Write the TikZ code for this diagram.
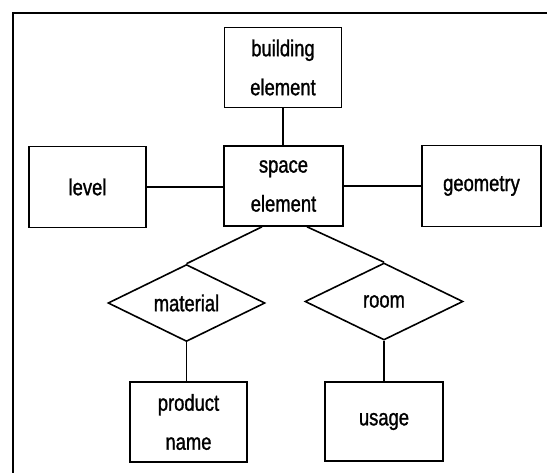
\documentclass[tikz,border=0pt]{standalone}
\usepackage{fontspec}
\setmainfont{Liberation Sans}[FakeStretch=0.8,FakeBold=1.2]
\usetikzlibrary{shapes.geometric,calc}
\begin{document}
\begin{tikzpicture}[x=1pt,y=-1pt,
  entity/.style={draw,line width=1.6pt,rectangle,minimum width=117pt,minimum height=80pt,
    inner sep=0pt,align=center,font=\fontsize{23}{39}\selectfont},
  relation/.style={draw,line width=1.6pt,diamond,aspect=2,minimum width=157pt,minimum height=77pt,
    inner sep=0pt,font=\fontsize{23}{39}\selectfont},
  link/.style={line width=1.6pt}]
\useasboundingbox (0,0) rectangle (547,472);
% outer frame
\draw[line width=2.6pt] (13,474) -- (13,13) -- (549,13);
% entities
\node[entity] (building) at (283,67.5) {building\\element};
\node[entity,minimum width=119pt] (space) at (283.5,186) {space\\element};
\node[entity,minimum height=81pt] (level) at (87.5,187) {level};
\node[entity,minimum width=119pt,minimum height=81pt] (geometry) at (481.5,186) {geometry};
\node[entity] (product) at (188.5,422) {product\\name};
\node[entity,minimum width=118pt,minimum height=79pt] (usage) at (384,421.5) {usage};
% relationships
\node[relation] (material) at (186.5,303) {material};
\node[relation,minimum width=158pt] (room) at (384,301.5) {room};
% connectors
\coordinate (spaceL) at ($(space.south)+(-21.5,0)$);
\coordinate (spaceR) at ($(space.south)+(23.5,0)$);
\draw[link] (building.south) -- (building.south |- space.north);
\draw[link] (level.east) -- (level.east -| space.west);
\draw[link] (space.east) -- (space.east -| geometry.west);
\draw[link] (spaceL) -- (material.north);
\draw[link] (spaceR) -- (room.north);
\draw[link] (material.south) -- (material.south |- product.north);
\draw[link] (room.south) -- (room.south |- usage.north);
\end{tikzpicture}
\end{document}
